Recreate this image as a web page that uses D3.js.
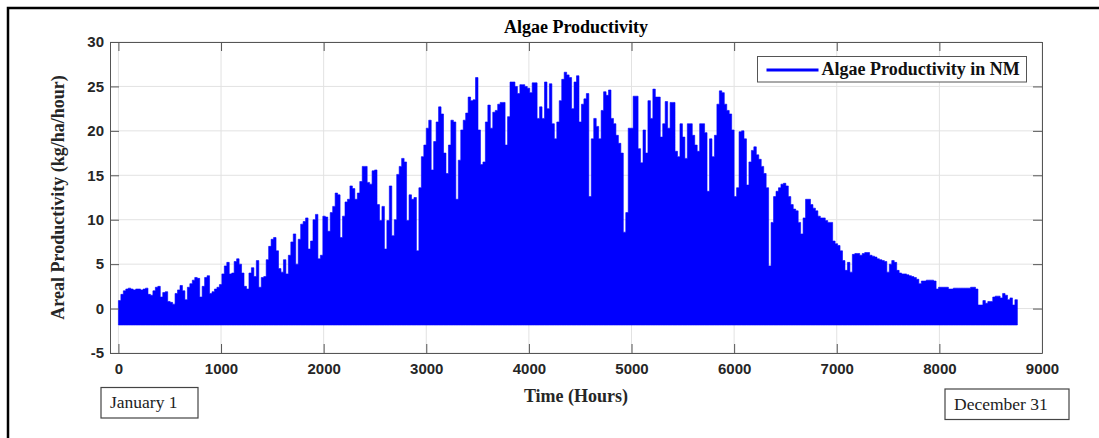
<!DOCTYPE html>
<html>
<head>
<meta charset="utf-8">
<script src="https://cdn.jsdelivr.net/npm/d3@7"></script>
<style>
  body { margin: 0; background: #fff; }
  .tick text { font-family: "Liberation Sans", Arial, sans-serif; font-weight: bold; font-size: 15px; fill: #262626; }
  .axis path, .axis line { stroke: #555; }
  .grid line { stroke: #e2e2e2; }
  .serif { font-family: "Liberation Serif", "Times New Roman", serif; }
</style>
</head>
<body>
<svg width="1099" height="438"></svg>
<script>
// Daily peak productivity (kg/ha/hour), one value per day, Jan 1 .. Dec 31
var dailyPeak = [
  0.9, 1.6, 2.0, 2.2, 2.3, 2.2, 2.1, 2.2, 2.2, 2.1,
  2.2, 2.3, 1.6, 1.5, 2.0, 2.4, 2.5, 1.3, 1.8, 1.9,
  0.8, 0.7, 0.5, 1.7, 2.1, 2.6, 2.0, 1.0, 2.4, 2.8,
  3.2, 3.5, 3.4, 1.3, 2.5, 3.5, 3.7, 1.7, 1.9, 2.2,
  2.4, 2.7, 3.9, 4.8, 5.2, 3.9, 4.0, 5.3, 5.6, 5.0,
  4.0, 2.5, 2.2, 4.0, 4.6, 3.6, 5.4, 2.4, 3.5, 3.6,
  5.5, 7.0, 7.8, 8.0, 6.5, 4.5, 4.1, 5.5, 3.9, 6.0,
  7.5, 8.4, 5.0, 7.8, 9.5, 9.8, 10.2, 6.7, 7.6, 10.0,
  10.6, 5.6, 6.0, 10.4, 10.3, 8.7, 10.8, 11.5, 13.0, 12.8,
  8.0, 10.4, 12.0, 12.3, 13.8, 13.5, 12.3, 13.0, 14.3, 16.0,
  16.0, 14.2, 14.0, 15.5, 15.6, 11.7, 9.9, 11.5, 6.7, 9.9,
  13.8, 8.2, 10.0, 15.1, 16.0, 16.9, 16.5, 9.9, 12.8, 12.3,
  12.5, 6.5, 13.6, 17.1, 18.4, 20.3, 21.2, 15.6, 18.8, 21.0,
  22.7, 21.9, 17.5, 15.2, 18.4, 21.2, 21.0, 12.3, 16.7, 20.1,
  21.2, 22.0, 23.8, 23.4, 23.5, 26.0, 20.1, 16.2, 16.5, 21.0,
  22.9, 20.3, 22.1, 22.3, 23.0, 23.2, 23.2, 18.4, 21.6, 25.5,
  25.5, 25.0, 24.2, 25.2, 25.2, 25.0, 24.8, 24.3, 25.4, 25.4,
  21.4, 22.7, 21.4, 25.5, 22.5, 25.3, 20.8, 19.1, 21.0, 23.4,
  25.8, 26.6, 26.3, 26.0, 22.5, 25.5, 26.2, 21.0, 23.0, 23.6,
  24.2, 12.6, 19.1, 21.4, 20.5, 19.1, 22.3, 24.4, 24.0, 24.6,
  21.4, 20.8, 19.5, 18.6, 17.5, 8.6, 10.8, 20.3, 20.3, 23.9,
  23.9, 18.0, 16.4, 20.1, 17.5, 23.4, 21.4, 24.7, 23.8, 23.8,
  19.3, 20.8, 23.3, 20.3, 23.2, 23.2, 17.7, 17.1, 20.8, 19.3,
  16.9, 20.8, 20.8, 19.5, 18.4, 17.7, 20.8, 20.8, 19.8, 13.2,
  19.1, 17.1, 19.5, 23.0, 24.5, 24.3, 23.0, 22.3, 21.9, 20.1,
  12.6, 13.6, 19.9, 20.0, 19.1, 13.9, 16.5, 17.8, 18.2, 17.3,
  16.8, 16.0, 15.2, 13.6, 4.8, 9.7, 12.6, 13.2, 13.6, 14.0,
  14.1, 13.8, 12.6, 11.7, 11.2, 11.0, 9.7, 8.4, 10.2, 12.3,
  12.3, 11.7, 11.3, 11.0, 10.4, 10.2, 10.2, 9.9, 9.7, 9.7,
  7.6, 7.3, 7.1, 6.5, 5.4, 4.3, 5.2, 4.1, 6.1, 6.2,
  6.2, 6.0, 6.2, 6.3, 6.3, 6.0, 5.9, 5.8, 5.6, 5.5,
  5.4, 5.3, 4.1, 5.0, 5.4, 5.2, 4.3, 4.0, 3.9, 3.9,
  3.8, 3.7, 3.6, 3.5, 3.3, 2.8, 3.1, 3.1, 3.2, 3.2,
  3.2, 3.1, 2.2, 2.4, 2.4, 2.4, 2.4, 2.2, 2.2, 2.3,
  2.3, 2.3, 2.3, 2.3, 2.3, 2.3, 2.4, 2.4, 2.2, 0.4,
  0.4, 0.9, 0.6, 0.8, 0.8, 1.3, 1.4, 1.4, 1.2, 1.7,
  1.5, 1.0, 1.2, 0.4, 1.0
];
// Night-time value (respiration), same every night
var nightValue = -1.85;
var hoursPerDay = 24;

var xTicks = [0, 1000, 2000, 3000, 4000, 5000, 6000, 7000, 8000, 9000];
var yTicks = [-5, 0, 5, 10, 15, 20, 25, 30];

var titleText = 'Algae Productivity';
var legendText = 'Algae Productivity in NM';
var xLabel = 'Time (Hours)';
var yLabel = 'Areal Productivity (kg/ha/hour)';
var startLabel = 'January 1';
var endLabel = 'December 31';

var svg = d3.select('svg');
var margin = {top: 42, left: 110};
var width = 932;
var height = 311;
var blue = '#0000ff';

var x = d3.scaleLinear().domain([-82, 9000]).range([0, width]);
var y = d3.scaleLinear().domain([-5, 30]).range([height, 0]);

// plain numbers: no thousands comma, ascii minus
var plain = function(d) { return String(d); };

// outer frame (top and left edges are all that show in the picture)
svg.append('path')
  .attr('d', 'M8,438V8H1099')
  .attr('fill', 'none')
  .attr('stroke', '#000')
  .attr('stroke-width', 2.5);

var g = svg.append('g')
  .attr('transform', 'translate(' + margin.left + ',' + margin.top + ')');

// grid
var grid = g.append('g').attr('class', 'grid');
grid.selectAll('.gx').data(xTicks).enter().append('line')
  .attr('x1', x).attr('x2', x).attr('y1', 0).attr('y2', height);
grid.selectAll('.gy').data(yTicks).enter().append('line')
  .attr('y1', y).attr('y2', y).attr('x1', 0).attr('x2', width);

/*
 each day is drawn as one step: from the night value up to that day's peak,
 one extra point closes the last day at hour 8760
*/
var days = dailyPeak.map(function(v, i) { return {hour: i * hoursPerDay, value: v}; });
days.push({hour: dailyPeak.length * hoursPerDay, value: dailyPeak[dailyPeak.length - 1]});

var area = d3.area()
  .curve(d3.curveStepAfter)
  .x(function(d) { return x(d.hour); })
  .y0(y(nightValue))
  .y1(function(d) { return y(d.value); });

g.append('path')
  .datum(days)
  .attr('d', area)
  .attr('fill', blue)
  .attr('stroke', blue)
  .attr('stroke-width', 0.6);

// axes, MATLAB style: ticks inside, box on
g.append('g')
  .attr('class', 'axis')
  .attr('transform', 'translate(0,' + height + ')')
  .call(d3.axisBottom(x).tickValues(xTicks).tickFormat(plain).tickSizeInner(-9).tickSizeOuter(0).tickPadding(10));
g.append('g')
  .attr('class', 'axis')
  .call(d3.axisLeft(y).tickValues(yTicks).tickFormat(plain).tickSizeInner(-9).tickSizeOuter(0).tickPadding(6));
g.append('g')
  .attr('class', 'axis')
  .call(d3.axisTop(x).tickValues(xTicks).tickSizeInner(-9).tickSizeOuter(0).tickFormat(''));
g.append('g')
  .attr('class', 'axis')
  .attr('transform', 'translate(' + width + ',0)')
  .call(d3.axisRight(y).tickValues(yTicks).tickSizeInner(-9).tickSizeOuter(0).tickFormat(''));

// title and axis labels
svg.append('text')
  .attr('class', 'serif')
  .attr('x', margin.left + width / 2).attr('y', 33)
  .attr('text-anchor', 'middle')
  .style('font-weight', 'bold').style('font-size', '18px')
  .text(titleText);

svg.append('text')
  .attr('class', 'serif')
  .attr('x', margin.left + width / 2).attr('y', 402)
  .attr('text-anchor', 'middle')
  .style('font-weight', 'bold').style('font-size', '18px').style('fill', '#262626')
  .text(xLabel);

svg.append('text')
  .attr('class', 'serif')
  .attr('transform', 'translate(64,' + (margin.top + height / 2) + ') rotate(-90)')
  .attr('text-anchor', 'middle')
  .style('font-weight', 'bold').style('font-size', '18px').style('fill', '#262626')
  .text(yLabel);

// legend
var legend = svg.append('g').attr('transform', 'translate(757.5,56.5)');
legend.append('rect')
  .attr('width', 269).attr('height', 25.5)
  .attr('fill', '#fff').attr('stroke', '#555');
legend.append('line')
  .attr('x1', 9).attr('x2', 61).attr('y1', 13.5).attr('y2', 13.5)
  .attr('stroke', blue).attr('stroke-width', 3);
legend.append('text')
  .attr('class', 'serif')
  .attr('x', 64).attr('y', 18.5)
  .style('font-weight', 'bold').style('font-size', '18px').style('fill', '#111')
  .text(legendText);

// date boxes under the axis
function dateBox(bx, by, bw, label) {
  var b = svg.append('g').attr('transform', 'translate(' + bx + ',' + by + ')');
  b.append('rect')
    .attr('width', bw).attr('height', 30.5)
    .attr('fill', '#fff').attr('stroke', '#444').attr('stroke-width', 1.2);
  b.append('text')
    .attr('class', 'serif')
    .attr('x', 9).attr('y', 20.5)
    .style('font-size', '17.5px').style('fill', '#222')
    .text(label);
}
dateBox(101, 387.5, 97, startLabel);
dateBox(945, 389, 124, endLabel);
</script>
</body>
</html>
